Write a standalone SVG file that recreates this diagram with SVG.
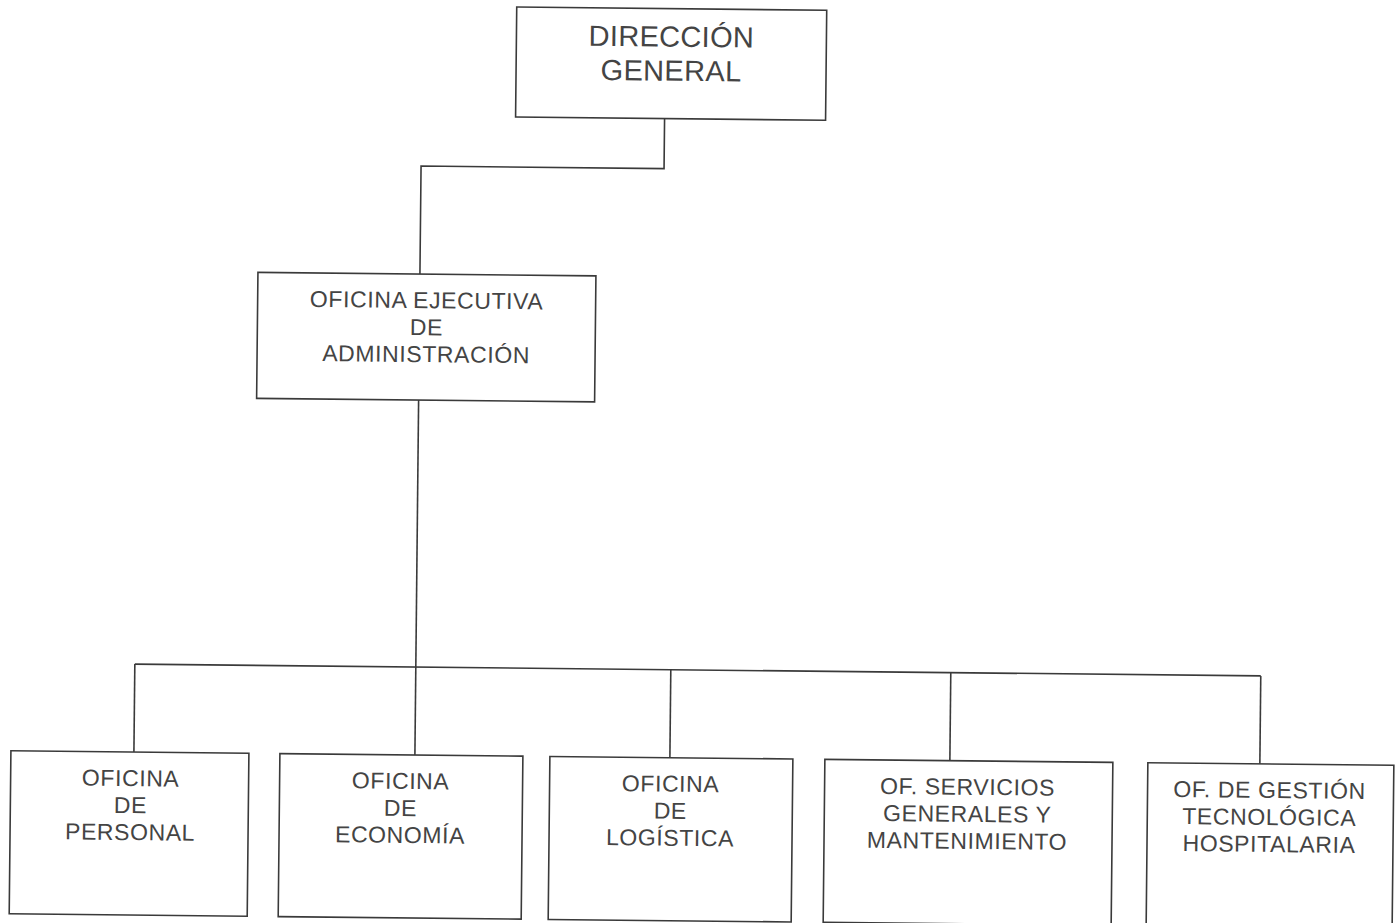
<svg xmlns="http://www.w3.org/2000/svg" width="1398" height="923" viewBox="0 0 1398 923">
<style>
.box{fill:#ffffff;stroke:#3a3a3a;stroke-width:1.6}
.ln{fill:none;stroke:#3a3a3a;stroke-width:1.6}
.t{font-family:"Liberation Sans",Arial,sans-serif;fill:#444444;text-anchor:middle}
.t1{font-size:29px;letter-spacing:0.3px}
.t2{font-size:23px;letter-spacing:0.6px}
</style>
<rect width="1398" height="923" fill="#ffffff"/>
<g transform="rotate(0.6 700 460)">
<g id="connectors">
<polyline class="ln" points="661,119 661,169 418,169 418,277"/>
<line class="ln" x1="418" y1="403" x2="418" y2="670"/>
<line class="ln" x1="137" y1="670" x2="1263" y2="670"/>
<line class="ln" x1="137" y1="670" x2="137" y2="758"/>
<line class="ln" x1="418" y1="670" x2="418" y2="758"/>
<line class="ln" x1="673" y1="670" x2="673" y2="758"/>
<line class="ln" x1="953" y1="670" x2="953" y2="758"/>
<line class="ln" x1="1263" y1="670" x2="1263" y2="758"/>
</g>
<g id="direccion-general">
<rect class="box" x="512" y="9" width="310" height="110"/>
<text class="t t1" x="667" y="47">DIRECCIÓN</text>
<text class="t t1" x="667" y="81">GENERAL</text>
</g>
<g id="oficina-ejecutiva">
<rect class="box" x="256" y="277" width="338" height="126"/>
<text class="t t2" x="425" y="311">OFICINA EJECUTIVA</text>
<text class="t t2" x="425" y="338">DE</text>
<text class="t t2" x="425" y="365">ADMINISTRACIÓN</text>
</g>
<g id="oficina-personal">
<rect class="box" x="14" y="758" width="238" height="163"/>
<text class="t t2" x="134" y="792">OFICINA</text>
<text class="t t2" x="134" y="819">DE</text>
<text class="t t2" x="134" y="846">PERSONAL</text>
</g>
<g id="oficina-economia">
<rect class="box" x="283" y="758" width="243" height="163"/>
<text class="t t2" x="404" y="792">OFICINA</text>
<text class="t t2" x="404" y="819">DE</text>
<text class="t t2" x="404" y="846">ECONOMÍA</text>
</g>
<g id="oficina-logistica">
<rect class="box" x="553" y="758" width="243" height="163"/>
<text class="t t2" x="674" y="792">OFICINA</text>
<text class="t t2" x="674" y="819">DE</text>
<text class="t t2" x="674" y="846">LOGÍSTICA</text>
</g>
<g id="of-servicios">
<rect class="box" x="828" y="758" width="288" height="163"/>
<text class="t t2" x="971" y="792">OF. SERVICIOS</text>
<text class="t t2" x="971" y="819">GENERALES Y</text>
<text class="t t2" x="971" y="846">MANTENIMIENTO</text>
</g>
<g id="of-gestion">
<rect class="box" x="1151" y="758" width="246" height="170"/>
<text class="t t2" x="1273" y="792">OF. DE GESTIÓN</text>
<text class="t t2" x="1273" y="819">TECNOLÓGICA</text>
<text class="t t2" x="1273" y="846">HOSPITALARIA</text>
</g>
</g>
</svg>
